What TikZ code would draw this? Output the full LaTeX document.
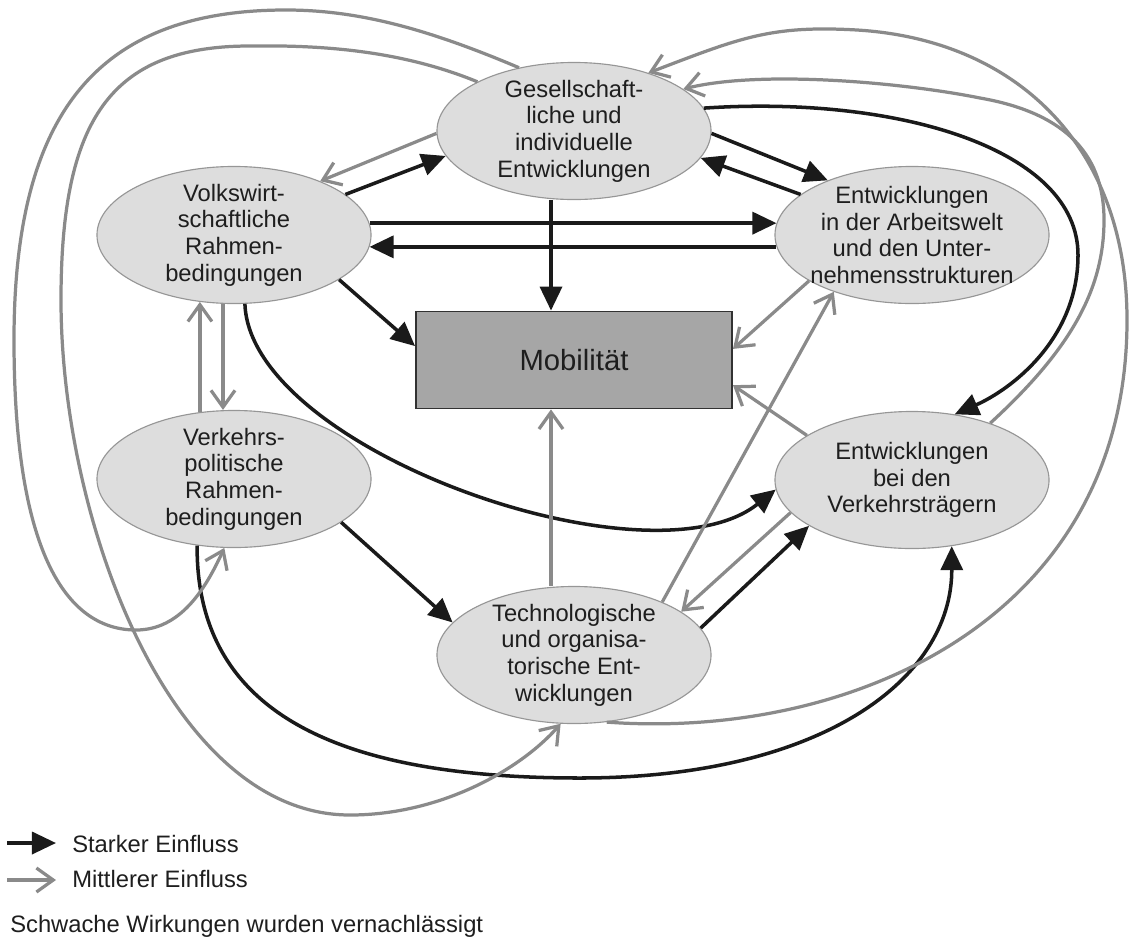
\documentclass[tikz,border=0pt]{standalone}
\usepackage{fontspec}
\setmainfont{Liberation Sans}
\usepackage{xcolor}
\usetikzlibrary{arrows.meta, shapes.geometric}

\definecolor{ellfill}{RGB}{221,221,221}
\definecolor{elldraw}{RGB}{150,150,150}
\definecolor{mobfill}{RGB}{166,166,166}
\definecolor{mobdraw}{RGB}{50,50,50}
\definecolor{strongc}{RGB}{26,26,26}
\definecolor{mediumc}{RGB}{138,138,138}
\definecolor{txtc}{RGB}{30,30,30}

\begin{document}
\begin{tikzpicture}[x=0.025cm, y=-0.025cm,
    factor/.style={ellipse, draw=elldraw, line width=0.8pt, fill=ellfill,
      minimum width=6.85cm, minimum height=3.425cm, inner xsep=-1.5cm, inner ysep=-1cm,
      align=center, text=txtc, font=\fontsize{16.9}{19}\selectfont},
    strong/.style={draw=strongc, line width=2.5pt, -{Triangle[length=0.6cm, width=0.55cm]}},
    medium/.style={draw=mediumc, line width=2.3pt, -{Straight Barb[length=0.42cm, width=0.6cm]}},
    legend/.style={anchor=base west, inner sep=0pt, text=txtc, font=\fontsize{16.9}{19}\selectfont}]
  \useasboundingbox (0,0) rectangle (1129,941);

  % Einflussfaktoren
  \node[factor] (ges) at (574,131) {Gesellschaft-\\liche und\\individuelle\\Entwicklungen};
  \node[factor] (vwr) at (234,235) {Volkswirt-\\schaftliche\\Rahmen-\\bedingungen};
  \node[factor] (arb) at (912,235) {Entwicklungen\\in der Arbeitswelt\\und den Unter-\\nehmensstrukturen};
  \node[factor] (vpr) at (234,479) {Verkehrs-\\politische\\Rahmen-\\bedingungen};
  \node[factor] (vkt) at (912,480) {Entwicklungen\\bei den\\Verkehrsträgern};
  \node[factor] (tech) at (574,655) {Technologische\\und organisa-\\torische Ent-\\wicklungen};
  \node[draw=mobdraw, line width=1.3pt, fill=mobfill, minimum width=7.9cm, minimum height=2.425cm,
        text=txtc, font=\fontsize{20.8}{23}\selectfont] (mob) at (574,360) {Mobilität};

  % starke Einfluesse
  \draw[strong] (vwr.20) -- (ges.191);
  \draw[strong] (ges.359) -- (arb.147);
  \draw[strong] (arb.160) -- (ges.348);
  \draw[strong] (vwr.5) -- (arb.175);
  \draw[strong] (arb.185) -- (vwr.355);
  \draw[strong] ([xshift=-0.575cm]ges.south) -- ([xshift=-0.575cm]mob.north);
  \draw[strong] (vwr.337) -- (mob.175);
  \draw[strong] (vwr.279) .. controls (250,450) and (650,590) .. (vkt.184);
  \draw[strong] (ges.10) .. controls (900,95) and (1078,150) .. (1078,255)
                .. controls (1078,340) and (1010,390) .. (vkt.57);
  \draw[strong] (vpr.338) -- (tech.165);
  \draw[strong] (tech.12) -- (vkt.204);
  \draw[strong] (vpr.241) .. controls (196,720) and (350,778) .. (580,778)
                .. controls (820,778) and (952,680) .. (vkt.301);

  % mittlere Einfluesse
  \draw[medium] (ges.181) -- (vwr.32);
  \draw[medium] ([xshift=-0.275cm]vwr.south) -- ([xshift=-0.275cm]vpr.north);
  \draw[medium] (vpr.117) -- (vwr.243);
  \draw[medium] (arb.204) -- (mob.4);
  \draw[medium] (vkt.157) -- (mob.351);
  \draw[medium] ([xshift=-0.575cm]tech.north) -- ([xshift=-0.575cm]mob.south);
  \draw[medium] (tech.31) -- (arb.216);
  \draw[medium] (vkt.195) -- (tech.22);
  \draw[medium] (tech.296) .. controls (850,740) and (1127,620) .. (1127,320)
                .. controls (1127,150) and (1020,40) .. (857,30)
                .. controls (770,25) and (740,38) .. (ges.38);
  \draw[medium] (vkt.36) .. controls (1070,350) and (1104,290) .. (1104,220)
                .. controls (1104,150) and (1060,112) .. (980,98)
                .. controls (900,82) and (760,70) .. (ges.21);
  \draw[medium] (ges.131) .. controls (430,30) and (360,10) .. (286,10)
                .. controls (100,10) and (14,110) .. (14,340)
                .. controls (14,560) and (70,630) .. (136,630)
                .. controls (180,630) and (205,590) .. (vpr.262);
  \draw[medium] (ges.153) .. controls (400,50) and (320,45) .. (250,46)
                .. controls (110,46) and (61,120) .. (61,300)
                .. controls (61,520) and (170,815) .. (350,815)
                .. controls (440,815) and (520,770) .. (tech.259);

  % Legende
  \coordinate (ls1) at (7,843);
  \coordinate (ls2) at (56,843);
  \coordinate (lm1) at (7,880);
  \coordinate (lm2) at (56,880);
  \draw[strong] (ls1) -- (ls2);
  \draw[medium] (lm1) -- (lm2);
  \node[legend] (lstark) at (72,852) {Starker Einfluss};
  \node[legend] (lmittel) at (72,887) {Mittlerer Einfluss};
  \node[legend] (lnote) at (10,932) {Schwache Wirkungen wurden vernachlässigt};
\end{tikzpicture}
\end{document}
